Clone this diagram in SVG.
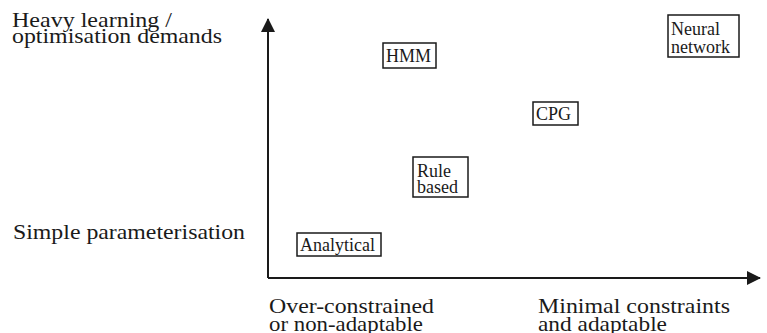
<svg xmlns="http://www.w3.org/2000/svg" width="767" height="333" viewBox="0 0 767 333">
<style>
text{font-family:"Liberation Serif","Times New Roman",serif;font-size:18px;fill:#1a1a1a}
.lbl{font-size:22px}
rect{fill:none;stroke:#1a1a1a;stroke-width:1.5}
.ax{stroke:#1a1a1a;stroke-width:2;fill:none}
</style>
<defs>
<marker id="ah" markerWidth="14" markerHeight="14" refX="13" refY="7" orient="auto" markerUnits="userSpaceOnUse">
<path d="M0,0 L14,7 L0,14 Z" fill="#1a1a1a"/>
</marker>
</defs>
<g id="axes">
<path class="ax" d="M268,278 L268,19" marker-end="url(#ah)"/>
<path class="ax" d="M268,278 L760,278" marker-end="url(#ah)"/>
</g>
<g id="labels">
<text class="lbl" x="12" y="27" textLength="160" lengthAdjust="spacingAndGlyphs">Heavy learning /</text>
<text class="lbl" x="12" y="43" textLength="210" lengthAdjust="spacingAndGlyphs">optimisation demands</text>
<text class="lbl" x="13" y="239" textLength="232" lengthAdjust="spacingAndGlyphs">Simple parameterisation</text>
<text class="lbl" x="269" y="313" textLength="165" lengthAdjust="spacingAndGlyphs">Over-constrained</text>
<text class="lbl" x="269" y="331" textLength="154" lengthAdjust="spacingAndGlyphs">or non-adaptable</text>
<text class="lbl" x="538" y="313" textLength="192" lengthAdjust="spacingAndGlyphs">Minimal constraints</text>
<text class="lbl" x="538" y="331" textLength="129" lengthAdjust="spacingAndGlyphs">and adaptable</text>
</g>
<g id="hmm"><rect x="383" y="43" width="53" height="25"/><text x="386" y="62">HMM</text></g>
<g id="neural"><rect x="668" y="15" width="71" height="42"/><text x="671" y="35">Neural</text><text x="671" y="53">network</text></g>
<g id="cpg"><rect x="533" y="102" width="45" height="23"/><text x="536" y="120">CPG</text></g>
<g id="rule"><rect x="413" y="157" width="55" height="40"/><text x="417" y="177">Rule</text><text x="417" y="193">based</text></g>
<g id="analytical"><rect x="297" y="233" width="84" height="23"/><text x="300" y="251">Analytical</text></g>
</svg>
